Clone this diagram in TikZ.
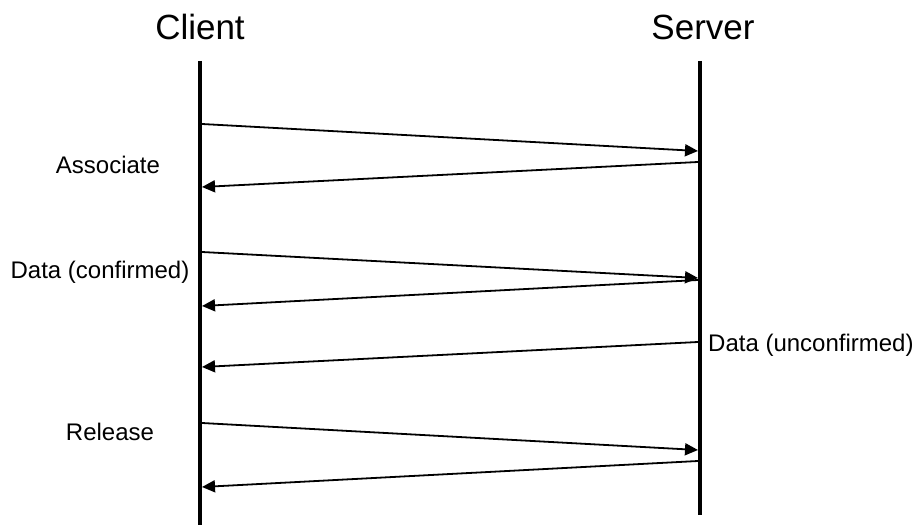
\documentclass[tikz,border=0pt]{standalone}
\usepackage{fontspec}
\setmainfont{Liberation Sans}
\usepackage{tikz}
\usetikzlibrary{arrows.meta}

\begin{document}
\begin{tikzpicture}[
    x=1pt, y=1pt,
    >={Triangle[length=13pt,width=12pt]},
    % Estilo para las líneas de vida (verticales gruesas)
    Vida/.style={
        draw=black,
        line width=4pt
    },
    % Estilo para los mensajes (flechas finas)
    Msg/.style={
        draw=black,
        line width=1.8pt,
        ->
    },
    % Estilo para los títulos y etiquetas
    Titulo/.style={font=\fontsize{35}{40}\selectfont, inner sep=0pt},
    Etiqueta/.style={font=\fontsize{24}{28}\selectfont, inner sep=0pt}
]
    \useasboundingbox (0,0) rectangle (918,525);

    % --- 1. LAS LÍNEAS DE VIDA ---
    \node[Titulo] (cliente) at (200,498) {Client};
    \node[Titulo] (servidor) at (703,498) {Server};

    \coordinate (CTop) at (200,464);
    \coordinate (CBot) at (200,0);
    \coordinate (STop) at (700,464);
    \coordinate (SBot) at (700,10);

    \draw[Vida] (CTop) -- (CBot);
    \draw[Vida] (STop) -- (SBot);

    % --- 2. PUNTOS DE LOS MENSAJES ---
    % Lado del cliente
    \coordinate (c1) at (202,401);
    \coordinate (c2) at (202,338);
    \coordinate (c3) at (202,273);
    \coordinate (c4) at (202,219);
    \coordinate (c5) at (202,158);
    \coordinate (c6) at (202,102);
    \coordinate (c7) at (202,38);
    % Lado del servidor
    \coordinate (s1) at (698,374);
    \coordinate (s2) at (698,363);
    \coordinate (s3) at (698,247);
    \coordinate (s4) at (698,245);
    \coordinate (s5) at (698,183);
    \coordinate (s6) at (698,75);
    \coordinate (s7) at (698,64);

    % --- 3. LOS MENSAJES ---
    \draw[Msg] (c1) -- (s1);
    \draw[Msg] (s2) -- (c2);
    \draw[Msg] (c3) -- (s3);
    \draw[Msg] (s4) -- (c4);
    \draw[Msg] (s5) -- (c5);
    \draw[Msg] (c6) -- (s6);
    \draw[Msg] (s7) -- (c7);

    % --- 4. ETIQUETAS ---
    \node[Etiqueta] (asociar) at (108,360) {Associate};
    \node[Etiqueta] (datosconf) at (100,253) {Data (confirmed)};
    \node[Etiqueta, anchor=west] (datosnoconf) at (708,180) {Data (unconfirmed)};
    \node[Etiqueta] (liberar) at (110,93) {Release};

\end{tikzpicture}
\end{document}
